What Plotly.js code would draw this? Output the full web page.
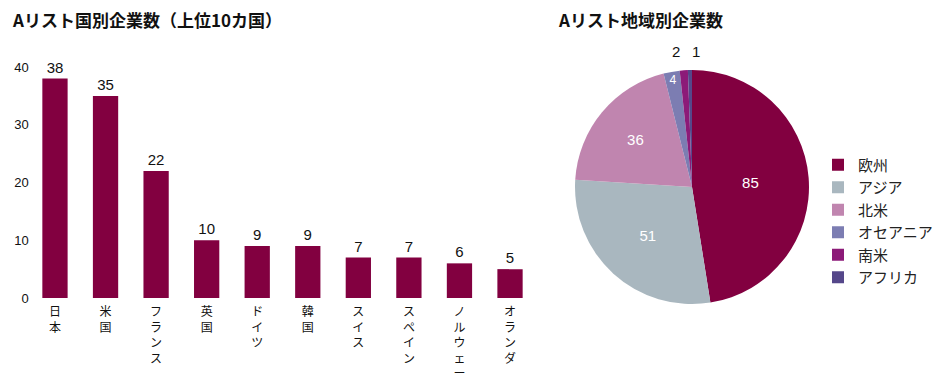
<!DOCTYPE html>
<html><head><meta charset="utf-8">
<script src="https://cdn.plot.ly/plotly-3.0.1.min.js"></script>
<style>body{margin:0;background:#fff}#c{width:950px;height:380px}</style>
</head><body><div id="c"></div>
<script>
const countries = ["日本","米国","フランス","英国","ドイツ","韓国","スイス","スペイン","ノルウェー","オランダ"];
const countryCounts = [38,35,22,10,9,9,7,7,6,5];
const yTicks = [0,10,20,30,40];
const regions = ["欧州","アジア","北米","オセアニア","南米","アフリカ"];
const regionCounts = [85,51,36,4,2,1];
const regionColors = ["#820040","#a9b7bf","#c085af","#7c7db2","#8c1a78","#55478a"];
const barColor = "#820040";
const title1 = "Aリスト国別企業数（上位10カ国）";
const title2 = "Aリスト地域別企業数";

const FONT = "Liberation Sans, Noto Sans CJK JP, sans-serif";
const vert = s => Array.from(s).join("<br>");

const bar = {
  type: "bar", x: countries, y: countryCounts,
  marker: {color: barColor},
  text: countryCounts.map(String), textposition: "outside",
  textfont: {family: FONT, size: 15, color: "#111"},
  cliponaxis: false, showlegend: false, hoverinfo: "x+y",
  xaxis: "x", yaxis: "y"
};
const insideCount = 4;
const pie = {
  type: "pie", labels: regions, values: regionCounts, sort: false,
  direction: "clockwise", rotation: 0,
  marker: {colors: regionColors, line: {width: 0}},
  texttemplate: regionCounts.map((v, i) => i < insideCount ? "%{value}" : ""),
  textposition: "inside",
  insidetextorientation: "horizontal",
  insidetextfont: {family: FONT, size: 15, color: "#ffffff"},
  domain: {x: [575/950, 809/950], y: [76/380, 310/380]},
  automargin: false
};
// small slices labelled outside, above the pie
const outsideAnn = regionCounts.slice(insideCount).map((v, k) => ({
  text: String(v), xref: "paper", yref: "paper",
  x: (676 + k * 20) / 950, y: 1 - 52 / 380, xanchor: "center", yanchor: "middle",
  showarrow: false, font: {family: FONT, size: 15, color: "#111"}
}));
const layout = {
  width: 950, height: 380,
  margin: {l: 0, r: 0, t: 0, b: 0},
  paper_bgcolor: "#fff", plot_bgcolor: "#fff",
  font: {family: FONT, size: 14, color: "#111"},
  bargap: 0.5,
  xaxis: {domain: [29.7/950, 535.3/950], range: [-0.5, 9.5], showline: false, ticks: "",
    tickvals: countries, ticktext: countries.map(vert), tickangle: 0, ticklabelstandoff: 5,
    tickfont: {family: "Noto Sans CJK JP", size: 12, color: "#111"}, fixedrange: true},
  yaxis: {domain: [82/380, 313/380], range: [0, 40], tickvals: yTicks, ticks: "",
    showgrid: false, zeroline: false, showline: false,
    tickfont: {family: FONT, size: 13, color: "#111"}},
  legend: {x: 818/950, y: 1 - 221/380, xanchor: "left", yanchor: "middle",
    font: {family: "Noto Sans CJK JP", size: 15, color: "#222"}, traceorder: "normal"},
  annotations: [
    {text: "<b>" + title1 + "</b>", xref: "paper", yref: "paper", x: 10/950, y: 1 - 5/380,
     xanchor: "left", yanchor: "top", showarrow: false,
     font: {family: "Noto Sans CJK JP", size: 17, color: "#111"}},
    {text: "<b>" + title2 + "</b>", xref: "paper", yref: "paper", x: 556/950, y: 1 - 5/380,
     xanchor: "left", yanchor: "top", showarrow: false,
     font: {family: "Noto Sans CJK JP", size: 17, color: "#111"}}
  ].concat(outsideAnn)
};
Plotly.newPlot("c", [bar, pie], layout, {displayModeBar: false, staticPlot: true});
</script></body></html>
